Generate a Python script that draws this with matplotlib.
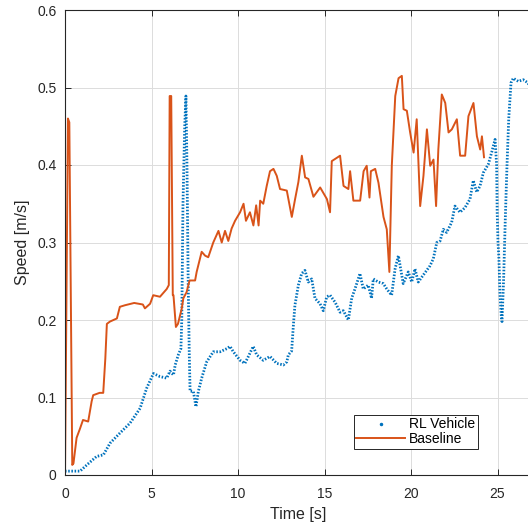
import numpy as np
import matplotlib
matplotlib.use("Agg")
import matplotlib.pyplot as plt
from matplotlib.lines import Line2D

plt.rcParams['font.family'] = ['Liberation Sans', 'DejaVu Sans']

# Baseline (orange line)
base_t = [0.00, 0.17, 0.25, 0.42, 0.49, 0.67, 0.87, 1.04, 1.34, 1.54, 1.63, 2.00, 2.21, 2.33, 2.42,
          2.60, 3.00, 3.17, 3.46, 4.00, 4.50, 4.62, 4.92, 5.10, 5.49, 5.88, 6.00, 6.05, 6.14, 6.23,
          6.27, 6.41, 6.53, 6.75, 6.84, 7.03, 7.20, 7.52, 7.61, 7.90, 8.10, 8.28, 8.57, 8.87, 9.06,
          9.25, 9.44, 9.63, 9.83, 10.12, 10.32, 10.46, 10.69, 10.89, 11.05, 11.19, 11.28, 11.46,
          11.66, 11.85, 12.05, 12.24, 12.43, 12.82, 13.11, 13.30, 13.49, 13.69, 13.88, 14.07, 14.36,
          14.75, 15.14, 15.32, 15.42, 15.90, 16.10, 16.38, 16.48, 16.67, 17.06, 17.26, 17.44, 17.60,
          17.68, 17.93, 18.12, 18.41, 18.60, 18.75, 18.89, 19.09, 19.28, 19.47, 19.57, 19.76, 19.95,
          20.15, 20.33, 20.53, 20.72, 20.92, 21.11, 21.30, 21.45, 21.58, 21.78, 21.98, 22.17, 22.36,
          22.65, 22.84, 23.13, 23.32, 23.61, 23.81, 24.00, 24.10, 24.22]
base_v = [0.000, 0.460, 0.455, 0.013, 0.015, 0.048, 0.060, 0.071, 0.069, 0.095, 0.103, 0.106, 0.106,
          0.150, 0.195, 0.198, 0.202, 0.217, 0.219, 0.222, 0.220, 0.215, 0.221, 0.232, 0.230, 0.240,
          0.245, 0.489, 0.489, 0.232, 0.232, 0.191, 0.195, 0.215, 0.228, 0.236, 0.251, 0.251, 0.262,
          0.288, 0.283, 0.281, 0.300, 0.315, 0.300, 0.315, 0.302, 0.318, 0.328, 0.339, 0.350, 0.328,
          0.339, 0.322, 0.348, 0.322, 0.354, 0.350, 0.373, 0.392, 0.395, 0.386, 0.369, 0.367, 0.333,
          0.356, 0.378, 0.412, 0.384, 0.382, 0.359, 0.371, 0.356, 0.339, 0.405, 0.412, 0.373, 0.369,
          0.392, 0.354, 0.354, 0.392, 0.399, 0.358, 0.392, 0.395, 0.377, 0.333, 0.317, 0.262, 0.399,
          0.489, 0.512, 0.515, 0.472, 0.470, 0.442, 0.416, 0.459, 0.347, 0.386, 0.446, 0.399, 0.407,
          0.347, 0.420, 0.491, 0.480, 0.442, 0.446, 0.459, 0.412, 0.412, 0.463, 0.480, 0.437, 0.420,
          0.437, 0.410]

# RL vehicle (blue dots)
rl_t = [0.00, 0.87, 1.26, 1.83, 2.22, 2.60, 3.17, 3.76, 4.34, 4.72, 5.11, 5.49, 5.88, 6.07, 6.27,
        6.37, 6.55, 6.70, 6.75, 6.82, 6.92, 6.99, 7.05, 7.12, 7.18, 7.23, 7.42, 7.57, 7.71, 7.90,
        8.19, 8.57, 8.96, 9.35, 9.54, 9.73, 10.12, 10.40, 10.60, 10.88, 11.08, 11.46, 11.85, 12.24,
        12.62, 12.82, 12.91, 13.10, 13.20, 13.29, 13.49, 13.68, 13.87, 14.06, 14.26, 14.45, 14.74,
        14.93, 15.13, 15.32, 15.61, 15.90, 16.09, 16.38, 16.57, 16.76, 16.95, 17.05, 17.24, 17.53,
        17.72, 17.82, 18.11, 18.40, 18.60, 18.88, 19.08, 19.27, 19.55, 19.84, 20.04, 20.23, 20.42,
        20.71, 21.10, 21.29, 21.49, 21.68, 21.87, 22.06, 22.35, 22.54, 22.83, 23.12, 23.41, 23.60,
        23.80, 23.99, 24.18, 24.47, 24.66, 24.86, 24.95, 24.98, 25.03, 25.08, 25.15, 25.22, 25.26,
        25.35, 25.45, 25.55, 25.65, 25.78, 25.91, 26.20, 26.49, 26.76, 26.90]
rl_v = [0.005, 0.005, 0.013, 0.024, 0.026, 0.041, 0.054, 0.067, 0.086, 0.112, 0.131, 0.127, 0.125,
        0.134, 0.129, 0.142, 0.155, 0.163, 0.200, 0.350, 0.450, 0.489, 0.400, 0.250, 0.160, 0.108,
        0.108, 0.088, 0.108, 0.125, 0.146, 0.159, 0.159, 0.163, 0.166, 0.159, 0.148, 0.144, 0.153,
        0.166, 0.155, 0.148, 0.153, 0.144, 0.142, 0.146, 0.155, 0.160, 0.193, 0.219, 0.245, 0.260,
        0.264, 0.249, 0.253, 0.228, 0.221, 0.212, 0.230, 0.232, 0.223, 0.210, 0.212, 0.200, 0.228,
        0.240, 0.253, 0.260, 0.240, 0.245, 0.228, 0.253, 0.249, 0.247, 0.240, 0.232, 0.266, 0.283,
        0.247, 0.262, 0.249, 0.266, 0.249, 0.258, 0.270, 0.279, 0.300, 0.302, 0.317, 0.313, 0.326,
        0.347, 0.339, 0.345, 0.356, 0.380, 0.365, 0.373, 0.390, 0.401, 0.416, 0.433, 0.400, 0.340,
        0.300, 0.280, 0.230, 0.205, 0.198, 0.250, 0.330, 0.400, 0.460, 0.506, 0.512, 0.508, 0.510,
        0.506, 0.500]

blue = '#0072BD'
orange = '#D95319'
dark = '#262626'

fig = plt.figure(figsize=(5.28, 5.29), dpi=100)
ax = fig.add_axes([65/528, 54/529, 519/528, 465/529])

ax.plot(rl_t, rl_v, color=blue, lw=2.0, linestyle=(0, (0.55, 0.6)), label='RL Vehicle')
ax.plot(base_t, base_v, color=orange, lw=1.4, label='Baseline')

ax.set_xlim(0, 30)
ax.set_ylim(0, 0.6)
ax.set_xticks([0, 5, 10, 15, 20, 25])
ax.set_yticks([0, 0.1, 0.2, 0.3, 0.4, 0.5, 0.6])
ax.set_yticklabels(['0', '0.1', '0.2', '0.3', '0.4', '0.5', '0.6'])
ax.grid(True, color='#dcdcdc', lw=0.7)
ax.set_axisbelow(True)
ax.tick_params(direction='in', length=4, width=0.7, top=True, right=True,
               labelsize=10, colors=dark, labelcolor=dark)
ax.tick_params(axis='x', pad=9)
ax.tick_params(axis='y', pad=6)
for s in ax.spines.values():
    s.set_color(dark)
    s.set_linewidth(0.8)

ax.set_xlabel('Time [s]', fontsize=11.5, color=dark)
ax.set_ylabel('Speed [m/s]', fontsize=11.5, color=dark)
ax.xaxis.set_label_coords(0.449, -0.068)
ax.yaxis.set_label_coords(-0.068, 0.5)

handles = [Line2D([], [], ls='none', marker='.', ms=3, color=blue),
           Line2D([], [], color=orange, lw=1.4)]
leg = ax.legend(handles, ['RL Vehicle', 'Baseline'], loc='lower right',
                bbox_to_anchor=(0.796, 0.056), borderaxespad=0, fontsize=10,
                fancybox=False, edgecolor=dark, framealpha=1, handlelength=3.5,
                handletextpad=0.3, labelspacing=0.05, borderpad=0.2)
leg.get_frame().set_linewidth(0.7)

fig.savefig('out.png', dpi=100)
